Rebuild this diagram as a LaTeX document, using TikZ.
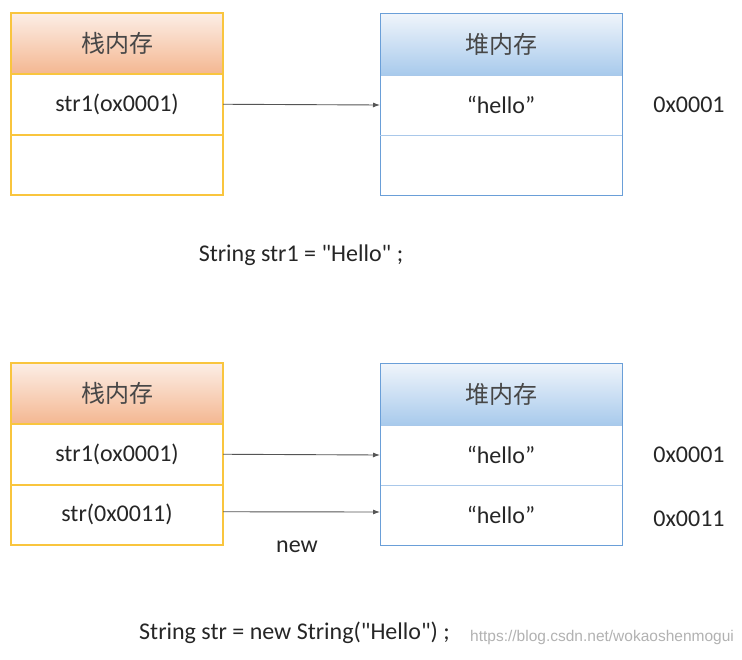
\documentclass[tikz,border=0pt]{standalone}
\usepackage{fontspec}
\setmainfont{Carlito}
\newfontfamily\cjk{Noto Sans CJK SC}
\newfontfamily\wmfont{Liberation Sans}
\usetikzlibrary{arrows.meta}
\definecolor{gold}{HTML}{F9C53E}
\definecolor{goldl}{HTML}{F7D37A}
\definecolor{blueb}{HTML}{6A9FD8}
\definecolor{bluel}{HTML}{A9C8EA}
\definecolor{orTop}{HTML}{FCEEE6}
\definecolor{orBot}{HTML}{F4B791}
\definecolor{blTop}{HTML}{F0F5FB}
\definecolor{blBot}{HTML}{A8CAEC}
\definecolor{txt}{HTML}{262626}
\definecolor{arr}{HTML}{555555}
\newcommand{\dq}{\XeTeXglyph\XeTeXcharglyph"0022\relax}
\tikzset{
  cell/.style={rectangle, inner sep=0pt, outer sep=0pt, font=\fontsize{24}{28}\selectfont, text=txt},
  stackhead/.style={cell, minimum width=212pt, minimum height=61pt, top color=orTop, bottom color=orBot, draw=gold, line width=1.1pt, font=\cjk\fontsize{24}{28}\selectfont, text=txt!85},
  stackrow/.style={cell, minimum width=212pt, minimum height=60.5pt, draw=gold, line width=1.1pt, fill=white},
  heaphead/.style={cell, minimum width=242pt, minimum height=62pt, top color=blTop, bottom color=blBot, draw=blueb, line width=1pt, font=\cjk\fontsize{24}{28}\selectfont, text=txt!85},
  heaprow/.style={cell, minimum width=242pt, minimum height=60pt, draw=blueb, line width=1pt, fill=white},
  lbl/.style={inner sep=0pt, font=\fontsize{24}{28}\selectfont, text=txt},
  ptr/.style={draw=arr, line width=0.9pt, -{Latex[length=7pt,width=5pt]}},
}
\begin{document}
\begin{tikzpicture}[x=1pt,y=-1pt]
\useasboundingbox[fill=white] (0,0) rectangle (742,659);
% ---- top diagram ----
\node[stackhead] (s1h) at (117,43.5) {栈内存};
\node[stackrow] (s1a) at (117,104.25) {str1(ox0001)};
\node[stackrow] (s1b) at (117,164.75) {};
\draw[gold, line width=2pt] (s1a.south west) -- (s1a.south east);
\node[heaphead] (h1h) at (501,44) {堆内存};
\node[heaprow, draw=bluel] (h1a) at (501,105) {“hello”};
\node[heaprow] (h1b) at (501,165) {};
\draw[blueb, line width=1pt] (h1h.north west) rectangle (h1b.south east);
\draw[bluel, line width=1pt] (h1a.south west) -- (h1a.south east);
\node[lbl] (ad1) at (689,105) {0x0001};
\draw[ptr] (s1a.east) -- (h1a.west);
\node[lbl] (c1) at (301,255) {String str1 = \dq Hello\dq\ ;};
% ---- bottom diagram ----
\node[stackhead] (s2h) at (117,393.5) {栈内存};
\node[stackrow] (s2a) at (117,454.25) {str1(ox0001)};
\node[stackrow] (s2b) at (117,514.75) {str(0x0011)};
\draw[gold, line width=2pt] (s2a.south west) -- (s2a.south east);
\node[heaphead] (h2h) at (501,394) {堆内存};
\node[heaprow, draw=bluel] (h2a) at (501,455) {“hello”};
\node[heaprow, draw=bluel] (h2b) at (501,515) {“hello”};
\draw[blueb, line width=1pt] (h2h.north west) rectangle (h2b.south east);
\node[lbl] (ad2) at (689,455) {0x0001};
\node[lbl] (ad3) at (689,519) {0x0011};
\draw[ptr] (s2a.east) -- (h2a.west);
\draw[ptr] ([yshift=3pt]s2b.east) -- ([yshift=3pt]h2b.west);
\node[lbl] (nw) at (297,547) {new};
\node[lbl, anchor=west] (c2) at (139,633) {String str = new String(\dq Hello\dq) ;};
\node[inner sep=0pt, anchor=west, text=black!30, font=\wmfont\fontsize{15.5}{17}\selectfont] (wm) at (470,637) {https://blog.csdn.net/wokaoshenmogui};
\end{tikzpicture}
\end{document}
